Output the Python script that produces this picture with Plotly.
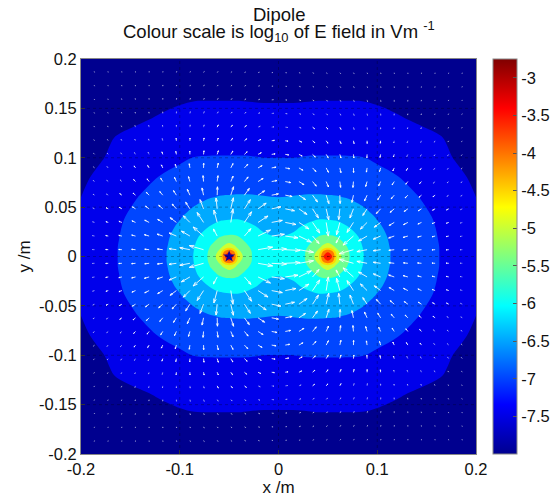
import math
import plotly.graph_objects as go

node_x = [0, .015, .03, .04, .045, .05, .055, .06, .07, .085, .1, .12, .14, .16, .18, .2]
node_y = [0, .005, .01, .02, .03, .04, .06, .08, .1, .12, .14, .16, .18, .2]
log_e_rows = [
    [-5.9, -5.85, -5.41, -4.75, -3.6, -2.9, -3.6, -4.75, -5.43, -5.97, -6.3, -6.6, -6.8, -6.97, -7.18, -7.4],
    [-5.9, -5.86, -5.42, -4.92, -4.0, -3.6, -4.0, -4.92, -5.45, -5.98, -6.3, -6.6, -6.8, -6.97, -7.18, -7.4],
    [-5.92, -5.88, -5.49, -5.13, -4.92, -4.75, -4.92, -5.13, -5.52, -6.0, -6.32, -6.61, -6.81, -6.97, -7.19, -7.4],
    [-6.0, -5.95, -5.71, -5.5, -5.44, -5.43, -5.45, -5.52, -5.76, -6.09, -6.37, -6.63, -6.82, -6.99, -7.2, -7.42],
    [-6.12, -6.06, -5.93, -5.82, -5.8, -5.8, -5.82, -5.85, -5.99, -6.21, -6.44, -6.67, -6.84, -7.01, -7.22, -7.43],
    [-6.25, -6.2, -6.1, -6.06, -6.06, -6.08, -6.09, -6.11, -6.18, -6.35, -6.53, -6.72, -6.87, -7.04, -7.25, -7.45],
    [-6.5, -6.48, -6.46, -6.46, -6.46, -6.47, -6.47, -6.48, -6.52, -6.62, -6.72, -6.86, -6.98, -7.15, -7.33, -7.5],
    [-6.75, -6.75, -6.73, -6.73, -6.74, -6.74, -6.75, -6.76, -6.78, -6.83, -6.9, -6.98, -7.13, -7.28, -7.44, -7.55],
    [-7.0, -7.0, -6.98, -6.98, -6.98, -6.98, -6.98, -6.98, -6.98, -6.99, -7.05, -7.17, -7.28, -7.41, -7.52, -7.6],
    [-7.18, -7.19, -7.17, -7.16, -7.16, -7.16, -7.16, -7.16, -7.17, -7.21, -7.25, -7.33, -7.42, -7.47, -7.56, -7.66],
    [-7.36, -7.36, -7.35, -7.34, -7.34, -7.34, -7.34, -7.34, -7.35, -7.37, -7.42, -7.48, -7.53, -7.59, -7.66, -7.73],
    [-7.54, -7.54, -7.53, -7.52, -7.52, -7.52, -7.52, -7.52, -7.52, -7.52, -7.54, -7.57, -7.62, -7.67, -7.73, -7.8],
    [-7.62, -7.62, -7.61, -7.6, -7.6, -7.6, -7.6, -7.6, -7.61, -7.62, -7.63, -7.67, -7.71, -7.76, -7.82, -7.87],
    [-7.72, -7.72, -7.71, -7.7, -7.7, -7.7, -7.7, -7.7, -7.71, -7.72, -7.73, -7.76, -7.79, -7.84, -7.89, -7.95],
]
charge_x = [-0.05]
charge_y = [0]

# ---- arrows, upper-right quadrant
arrow_pos = [.0069, .0207, .0345, .0483, .0621, .0759, .0897, .1034, .1172, .131, .1448, .1586, .1724, .1862]
arrow_angle = [
    [-3, -10, -23, -76, -150, -164, -169, -172, -173, -174, -175, -176, -176, -177],
    [-8, -26, -49, -83, -118, -139, -150, -157, -161, -164, -166, -167, -168, -169],
    [-11, -33, -56, -81, -105, -123, -135, -143, -149, -153, -156, -159, -161, -163],
    [-12, -35, -57, -77, -96, -111, -123, -132, -139, -144, -148, -151, -154, -156],
    [-11, -34, -54, -72, -88, -102, -114, -122, -130, -135, -140, -144, -147, -150],
    [-11, -32, -51, -67, -82, -95, -106, -114, -122, -128, -133, -137, -141, -144],
    [-10, -30, -47, -63, -77, -88, -99, -107, -115, -121, -126, -131, -135, -138],
    [-9, -27, -44, -59, -72, -83, -93, -101, -108, -115, -120, -125, -129, -133],
    [-9, -25, -41, -55, -67, -78, -88, -96, -103, -110, -115, -120, -124, -128],
    [-8, -23, -38, -51, -63, -74, -83, -91, -98, -105, -110, -115, -120, -124],
    [-7, -21, -35, -48, -59, -70, -78, -86, -93, -100, -105, -111, -115, -120],
    [-7, -20, -33, -45, -56, -66, -74, -82, -89, -95, -101, -106, -111, -115],
    [-6, -18, -31, -42, -53, -62, -70, -78, -85, -91, -97, -102, -107, -111],
    [-6, -17, -29, -40, -50, -59, -67, -75, -81, -87, -93, -98, -103, -107],
]
arrow_length = [
    [15, 15, 0, 0, 0, 15, 10.5, 7.5, 5.5, 4.5, 4, 3.2, 2.6, 2.2],
    [13, 14, 10, 0, 8, 14, 10, 8, 6, 5, 4, 3.2, 2.6, 2.2],
    [11, 12, 13, 14, 13, 12, 9.5, 8, 6, 5, 4, 3.2, 2.5, 2.1],
    [9.5, 10, 11, 11.5, 11, 10, 8, 6.5, 5.5, 4.6, 3.8, 3, 2.5, 2],
    [7, 8, 8.5, 9, 8.5, 7.5, 6.5, 5.5, 4.8, 4, 3.3, 2.7, 2.2, 1.9],
    [5.5, 6, 6, 6, 6, 6, 5.2, 4.7, 4, 3.4, 2.8, 2.4, 2, 1.8],
    [4.5, 4.7, 5, 5, 5, 4.7, 4.3, 3.9, 3.4, 2.9, 2.5, 2.1, 1.9, 1.6],
    [3.5, 3.7, 3.9, 4, 3.9, 3.7, 3.4, 3.1, 2.7, 2.4, 2.1, 1.9, 1.7, 1.5],
    [2.8, 3, 3, 3, 3, 2.9, 2.7, 2.5, 2.3, 2, 1.8, 1.7, 1.5, 1.3],
    [2.3, 2.4, 2.5, 2.5, 2.5, 2.4, 2.3, 2, 1.9, 1.8, 1.7, 1.5, 1.3, 1.2],
    [1.9, 2, 2, 2, 2, 2, 1.9, 1.8, 1.7, 1.6, 1.5, 1.3, 1.2, 1.1],
    [1.7, 1.8, 1.8, 1.8, 1.8, 1.7, 1.7, 1.6, 1.5, 1.4, 1.3, 1.2, 1.1, 1],
    [1.4, 1.5, 1.5, 1.5, 1.5, 1.5, 1.4, 1.3, 1.3, 1.2, 1.1, 1.1, 1, 1],
    [1.2, 1.3, 1.3, 1.3, 1.3, 1.3, 1.2, 1.2, 1.1, 1.1, 1, 1, 1, 1],
]

x_ticks = [-0.2, -0.1, 0, 0.1, 0.2]
x_tick_text = ["-0.2", "-0.1", "0", "0.1", "0.2"]
y_ticks = [-0.2, -0.15, -0.1, -0.05, 0, 0.05, 0.1, 0.15, 0.2]
y_tick_text = ["-0.2", "-0.15", "-0.1", "-0.05", "0", "0.05", "0.1", "0.15", "0.2"]
cb_ticks = [-7.5, -7, -6.5, -6, -5.5, -5, -4.5, -4, -3.5, -3]
cb_text = ["-7.5", "-7", "-6.5", "-6", "-5.5", "-5", "-4.5", "-4", "-3.5", "-3"]

band_colors = ["rgb(0,0,143)", "rgb(0,0,235)", "rgb(0,70,255)", "rgb(0,170,255)", "rgb(5,255,250)",
               "rgb(110,255,145)", "rgb(205,255,50)", "rgb(255,215,0)", "rgb(255,120,0)",
               "rgb(255,20,0)", "rgb(175,0,0)"]
jet = [[0, "rgb(0,0,143)"], [.125, "rgb(0,0,255)"], [.375, "rgb(0,255,255)"],
       [.625, "rgb(255,255,0)"], [.875, "rgb(255,0,0)"], [1, "rgb(128,0,0)"]]
FONT = "Liberation Sans, Arial, sans-serif"

# assemble the full grid from the read quadrant (the picture is mirror symmetric)
full_x = [-v for v in node_x[:0:-1]] + node_x
full_y = [-v for v in node_y[:0:-1]] + node_y
half_rows = [row[:0:-1] + row for row in log_e_rows]
full_z = [list(r) for r in half_rows[:0:-1]] + [list(r) for r in half_rows]

# arrows
ax, ay, sx_, sy_ = [], [], [], []
for j, yv in enumerate(arrow_pos):
    for i, xv in enumerate(arrow_pos):
        ln = arrow_length[j][i] * 0.001
        if ln == 0:
            continue
        th = math.radians(arrow_angle[j][i])
        px, py = (ax, ay) if arrow_length[j][i] >= 2.5 else (sx_, sy_)
        for sx in (1, -1):
            for sy in (1, -1):
                x0, y0 = sx * xv, sy * yv
                u = ln * math.cos(th)
                v = ln * math.sin(th) * sx * sy
                x1, y1 = x0 + u, y0 + v
                px += [x0, x1, None]
                py += [y0, y1, None]
                a, b = 0.33, 0.33
                px += [x1 - a * (u + b * v), x1, x1 - a * (u - b * v), None]
                py += [y1 - a * (v - b * u), y1, y1 - a * (v + b * u), None]

gx, gy = [], []
for t in x_ticks[1:-1]:
    gx += [t, t, None]
    gy += [-0.2, 0.2, None]
for t in y_ticks[1:-1]:
    gx += [-0.2, 0.2, None]
    gy += [t, t, None]

fig = go.Figure()
fig.add_trace(go.Heatmap(
    x=full_x, y=full_y, z=full_z, zmin=-8, zmax=-2.75, colorscale=jet, hoverinfo="skip",
    colorbar=dict(
        x=1.0435, xanchor="left", xpad=0, ypad=0, y=0.5, yanchor="middle", len=1, lenmode="fraction",
        thickness=24, thicknessmode="pixels", outlinecolor="#888888", outlinewidth=1,
        tickmode="array", tickvals=cb_ticks, ticktext=cb_text, ticks="inside", ticklen=4,
        tickcolor="#555555", tickfont=dict(family=FONT, size=16.5, color="#111111"),
    ),
))
fig.add_trace(go.Contour(
    x=full_x, y=full_y, z=full_z, showscale=False, hoverinfo="skip",
    autocontour=False,
    contours=dict(start=-7.5, end=-3, size=0.5, coloring="fill", showlines=False),
    line=dict(width=0, smoothing=1),
    colorscale=[[k / 10, c] for k, c in enumerate(band_colors)],
))
fig.add_trace(go.Scatter(x=charge_x, y=charge_y, mode="markers", hoverinfo="skip", showlegend=False,
                         marker=dict(symbol="star", size=9, color="rgb(20,0,150)", line=dict(width=0))))
fig.add_trace(go.Scatter(x=gx, y=gy, mode="lines", hoverinfo="skip", showlegend=False,
                         line=dict(color="rgba(0,0,0,0.28)", width=1, dash="dot")))
fig.add_trace(go.Scatter(x=sx_, y=sy_, mode="lines", hoverinfo="skip", showlegend=False,
                         line=dict(color="rgba(255,255,255,0.55)", width=0.8)))
fig.add_trace(go.Scatter(x=ax, y=ay, mode="lines", hoverinfo="skip", showlegend=False,
                         line=dict(color="rgba(255,255,255,0.85)", width=1)))

axis = dict(range=[-0.2, 0.2], showgrid=False, zeroline=False, ticks="inside", ticklen=4,
            tickcolor="#333333", showline=True, linecolor="#888888", linewidth=1, mirror=True,
            tickfont=dict(family=FONT, size=16.5, color="#111111"), layer="above traces", automargin=False)
fig.update_xaxes(axis, tickvals=x_ticks, ticktext=x_tick_text,
                 title=dict(text="x /m", standoff=4, font=dict(family=FONT, size=17, color="#111111")))
fig.update_yaxes(axis, tickvals=y_ticks, ticktext=y_tick_text,
                 title=dict(text="y /m", standoff=4, font=dict(family=FONT, size=17, color="#111111")))

title_font = dict(family=FONT, size=18.5, color="#111111")
fig.update_layout(
    width=568, height=502, autosize=False, showlegend=False, paper_bgcolor="white", plot_bgcolor="white",
    margin=dict(l=81, r=91.5, t=59, b=48),
    annotations=[
        dict(text="Dipole", x=0.5, y=1 + 45 / 395, xref="paper", yref="paper", showarrow=False,
             xanchor="center", yanchor="middle", font=title_font),
        dict(text="Colour scale is log<sub>10</sub> of E field in Vm <sup>-1</sup>", x=0.5, y=1 + 28 / 395,
             xref="paper", yref="paper", showarrow=False, xanchor="center", yanchor="middle", font=title_font),
    ],
)
fig.write_html("out.html", config={"displayModeBar": False},
               post_script="document.body.style.margin='0';document.documentElement.style.overflow='hidden';")
